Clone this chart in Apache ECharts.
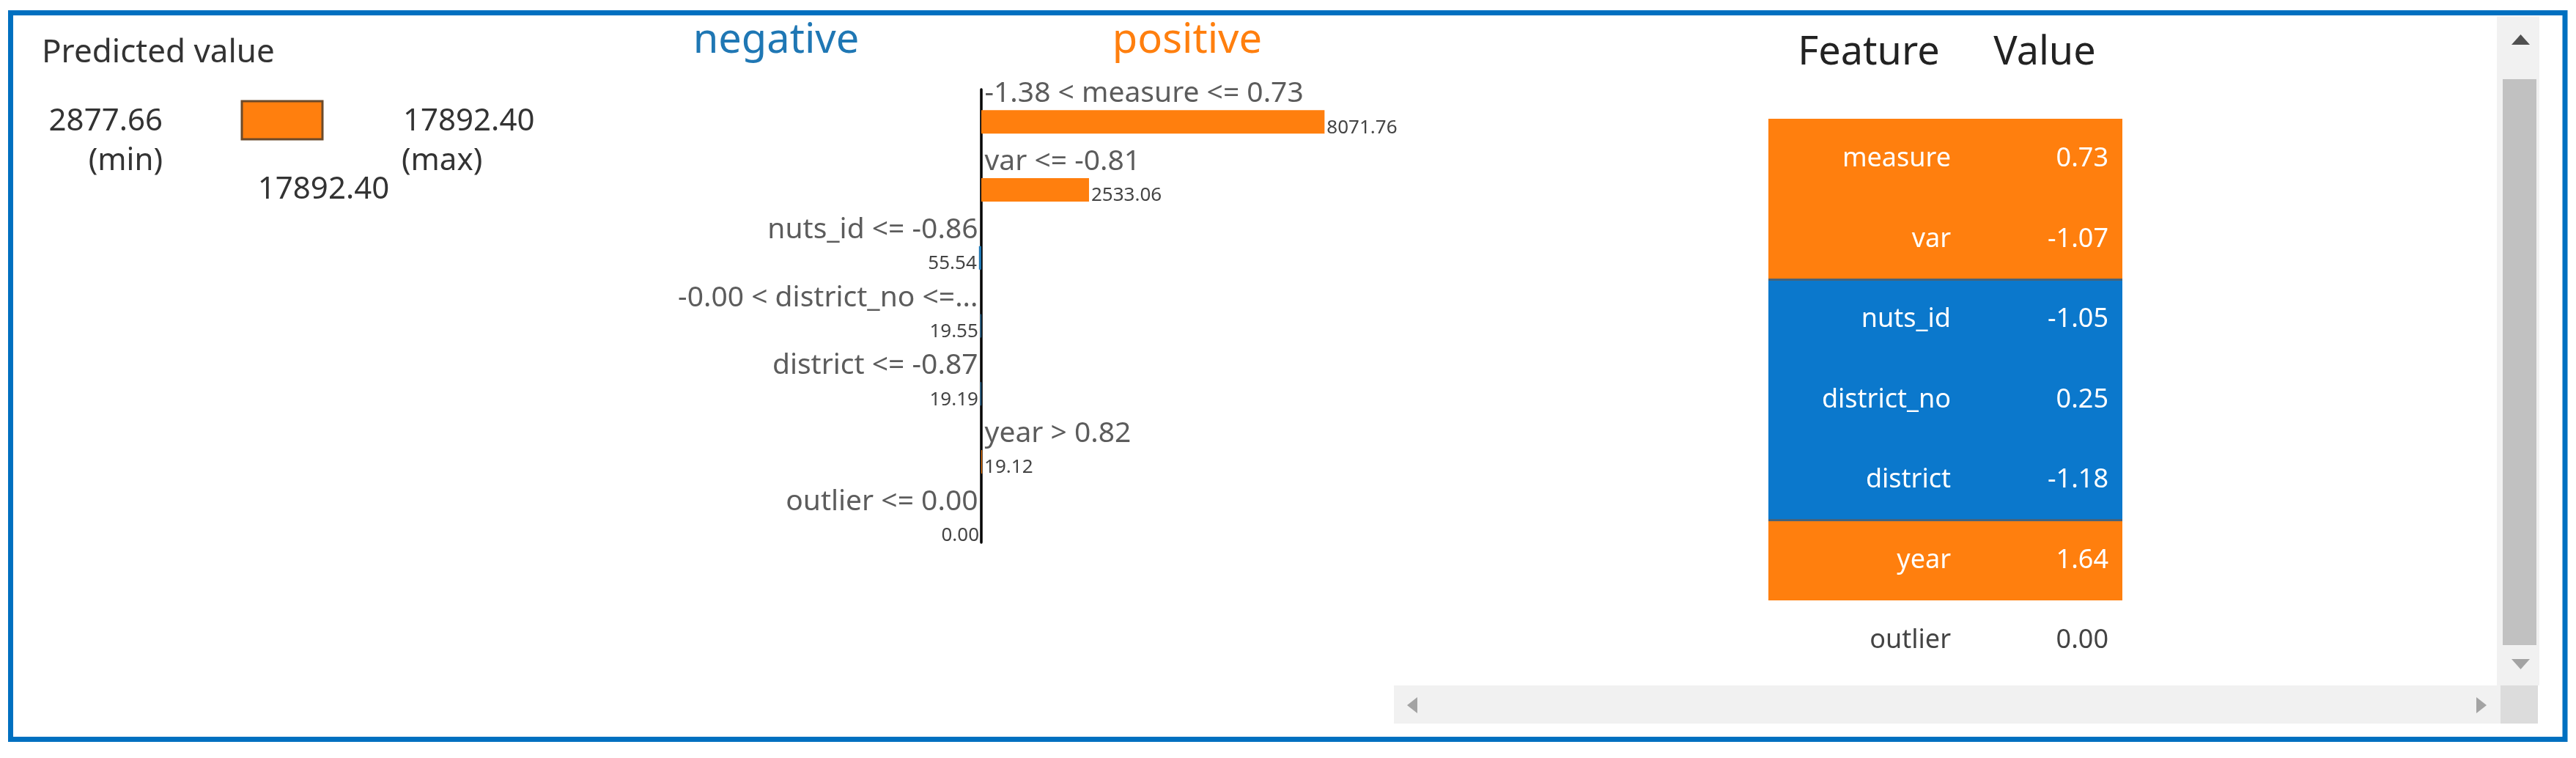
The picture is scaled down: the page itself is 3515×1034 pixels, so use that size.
<!DOCTYPE html>
<html>
<head>
<meta charset="utf-8">
<title>LIME explanation</title>
<script src="https://cdn.jsdelivr.net/npm/echarts@6/dist/echarts.min.js"></script>
<style>
  html, body { margin: 0; padding: 0; background: #fff; }
  #chart { width: 3515px; height: 1034px; }
</style>
</head>
<body>
<div id="chart"></div>
<script>
// predicted value block
const predMin = [2877.66];
const predMax = [17892.40];
const predValue = [17892.40];

// explanation rows (top to bottom)
const features = ['measure', 'var', 'nuts_id', 'district_no', 'district', 'year', 'outlier'];
const conditions = [
  '-1.38 < measure <= 0.73',
  'var <= -0.81',
  'nuts_id <= -0.86',
  '-0.00 < district_no <=...',
  'district <= -0.87',
  'year > 0.82',
  'outlier <= 0.00'
];
const weights = [8071.76, 2533.06, -55.54, -19.55, -19.19, 19.12, 0.00];
const featureValues = ['0.73', '-1.07', '-1.05', '0.25', '-1.18', '1.64', '0.00'];

const ORANGE = '#ff7f0e';
const BLUE = '#1f77b4';
const TABLE_BLUE = '#0b78cc';
const FONT = '"Noto Sans", "Open Sans", sans-serif';

const chart = echarts.init(document.getElementById('chart'));

function txt(x, y, text, size, color, align) {
  return {
    type: 'text', silent: true,
    style: {
      x: x, y: y, text: text, fill: color,
      font: size + 'px ' + FONT,
      align: align, verticalAlign: 'middle',
      textAlign: align, textVerticalAlign: 'middle'
    }
  };
}

const graphics = [
  // frame
  { type: 'rect', silent: true, shape: { x: 14.5, y: 17.5, width: 3485.5, height: 991 },
    style: { fill: null, stroke: '#0070c0', lineWidth: 7 } },
  // scrollbars
  { type: 'rect', silent: true, shape: { x: 3407, y: 22, width: 58, height: 913 }, style: { fill: '#f1f1f1' } },
  { type: 'rect', silent: true, shape: { x: 3415, y: 108, width: 46, height: 772 }, style: { fill: '#c1c1c1' } },
  { type: 'polygon', silent: true, shape: { points: [[3427, 61], [3452, 61], [3439.5, 47]] }, style: { fill: '#505050' } },
  { type: 'polygon', silent: true, shape: { points: [[3427, 899], [3452, 899], [3439.5, 913]] }, style: { fill: '#a3a3a3' } },
  { type: 'rect', silent: true, shape: { x: 1902, y: 935, width: 1510, height: 52 }, style: { fill: '#f1f1f1' } },
  { type: 'rect', silent: true, shape: { x: 3412, y: 935, width: 51, height: 52 }, style: { fill: '#dcdcdc' } },
  { type: 'polygon', silent: true, shape: { points: [[1920, 962], [1934, 951], [1934, 973]] }, style: { fill: '#a3a3a3' } },
  { type: 'polygon', silent: true, shape: { points: [[3393, 962], [3379, 951], [3379, 973]] }, style: { fill: '#a3a3a3' } },
  // predicted value texts
  txt(57, 72, 'Predicted value', 44, '#333', 'left'),
  txt(222, 166, predMin[0].toFixed(2), 42, '#333', 'right'),
  txt(222, 220, '(min)', 42, '#333', 'right'),
  txt(550, 166, predMax[0].toFixed(2), 42, '#333', 'left'),
  txt(548, 220, '(max)', 42, '#333', 'left'),
  // bar chart headings
  txt(1059, 56, 'negative', 56, BLUE, 'center'),
  txt(1620, 56, 'positive', 56, ORANGE, 'center'),
  // table headings
  txt(2550, 73, 'Feature', 54, '#222', 'center'),
  txt(2790, 73, 'Value', 54, '#222', 'center')
];

const option = {
  animation: false,
  textStyle: { fontFamily: FONT },
  graphic: graphics,
  grid: [
    { left: 328.5, top: 135, width: 113, height: 58 },
    { left: 869, top: 120, width: 940, height: 649 },
    { left: 869, top: 122, width: 940, height: 618 },
    { left: 2413, top: 162, width: 483, height: 766.5 }
  ],
  xAxis: [
    { gridIndex: 0, type: 'value', min: predMin[0], max: predMax[0], startValue: predMin[0], show: false },
    { gridIndex: 1, type: 'value', min: -8100, max: 8100, show: false },
    { gridIndex: 2, type: 'value', min: -8100, max: 8100, show: false },
    { gridIndex: 3, type: 'value', min: 0, max: 1, show: false }
  ],
  yAxis: [
    { gridIndex: 0, type: 'category', data: ['predicted'], show: false },
    { gridIndex: 1, type: 'category', data: features, inverse: true, show: false },
    { gridIndex: 2, type: 'category', data: features, inverse: true,
      axisLine: { show: true, onZero: true, lineStyle: { color: '#000', width: 3.5 } },
      axisTick: { show: false }, axisLabel: { show: false }, splitLine: { show: false } },
    { gridIndex: 3, type: 'category', data: features, inverse: true, show: false }
  ],
  series: [
    {
      type: 'bar', xAxisIndex: 0, yAxisIndex: 0, silent: true,
      data: predValue, barWidth: 55,
      itemStyle: { color: ORANGE, borderColor: '#6b4a2b', borderWidth: 3 },
      label: {
        show: true, position: ['100%', '100%'], align: 'center', verticalAlign: 'middle',
        offset: [0, 68], fontSize: 42, color: '#333',
        formatter: p => p.value.toFixed(2)
      }
    },
    {
      type: 'bar', xAxisIndex: 1, yAxisIndex: 1, silent: true, barWidth: 32,
      data: weights.map(w => ({
        value: w,
        itemStyle: { color: w > 0 ? ORANGE : BLUE },
        label: { position: w > 0 ? 'right' : 'left' }
      })),
      label: {
        show: true, fontSize: 26, color: '#444', distance: 3, offset: [0, 8],
        formatter: p => Math.abs(p.value).toFixed(2)
      }
    },
    {
      type: 'scatter', xAxisIndex: 1, yAxisIndex: 1, silent: true,
      symbolSize: 1, itemStyle: { color: 'rgba(0,0,0,0)' },
      data: conditions.map((c, i) => ({
        value: [0, i],
        label: { position: weights[i] > 0 ? 'right' : 'left' }
      })),
      label: {
        show: true, fontSize: 39, color: '#333', distance: 4, offset: [0, -38],
        formatter: p => conditions[p.dataIndex]
      }
    },
    {
      type: 'custom', xAxisIndex: 3, yAxisIndex: 3, silent: true,
      data: features.map((f, i) => [0, i]),
      encode: { x: 0, y: 1 },
      renderItem: (params, api) => {
        const i = api.value(1);
        const cs = params.coordSys;
        const y = api.coord([0, i])[1];
        const h = api.size([0, 1])[1];
        const w = weights[i];
        const fill = w > 0 ? ORANGE : (w < 0 ? TABLE_BLUE : '#fff');
        const color = w === 0 ? '#444' : '#fff';
        // rows overlap by a pixel so no seam shows between equal colours
        const children = [
          { type: 'rect', shape: { x: cs.x, y: Math.floor(y - h / 2), width: cs.width, height: Math.ceil(h) + 1 },
            style: { fill: fill } },
          { type: 'text', style: { x: cs.x + 249, y: y, text: features[i], fill: color,
              font: '36px ' + FONT, align: 'right', verticalAlign: 'middle' } },
          { type: 'text', style: { x: cs.x + 464, y: y, text: featureValues[i], fill: color,
              font: '36px ' + FONT, align: 'right', verticalAlign: 'middle' } }
        ];
        const prev = i > 0 ? weights[i - 1] : 0;
        if (i > 0 && w !== 0 && prev !== 0 && Math.sign(prev) !== Math.sign(w)) {
          children.push({ type: 'rect', shape: { x: cs.x, y: Math.floor(y - h / 2) - 1, width: cs.width, height: 3 },
            style: { fill: '#45637c' } });
        }
        return { type: 'group', children: children };
      }
    }
  ]
};

chart.setOption(option);
</script>
</body>
</html>
